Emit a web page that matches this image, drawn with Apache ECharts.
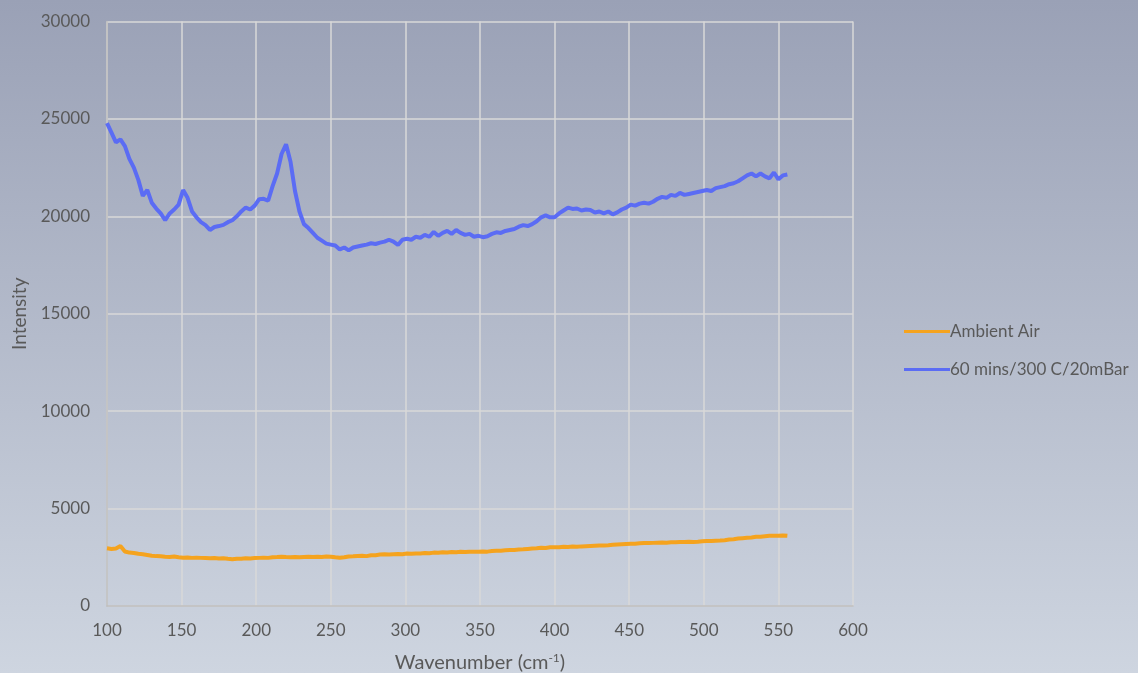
<!DOCTYPE html>
<html>
<head>
<meta charset="utf-8">
<title>Raman spectra</title>
<script src="https://cdn.jsdelivr.net/npm/echarts@6/dist/echarts.min.js"></script>
<style>
  html, body { margin: 0; padding: 0; }
  #chart { width: 1138px; height: 673px; }
</style>
</head>
<body>
<div id="chart"></div>
<script>
// Sampled wavenumbers (cm^-1)
const wavenumbers = [
  100,103,106,109,112,115,118,121,124,127,130,133,136,139,142,145,148,151,154,157,
  160,163,166,169,172,175,178,181,184,187,190,193,196,199,202,205,208,211,214,217,
  220,223,226,229,232,235,238,241,244,247,250,253,256,259,262,265,268,271,274,277,
  280,283,286,289,292,295,298,301,304,307,310,313,316,319,322,325,328,331,334,337,
  340,343,346,349,352,355,358,361,364,367,370,373,376,379,382,385,388,391,394,397,
  400,403,406,409,412,415,418,421,424,427,430,433,436,439,442,445,448,451,454,457,
  460,463,466,469,472,475,478,481,484,487,490,493,496,499,502,505,508,511,514,517,
  520,523,526,529,532,535,538,541,544,547,550,553,556
];

// Intensity, sample in ambient air
const ambientAir = [
  2960,2930,2950,3080,2800,2740,2720,2680,2660,2620,2580,2560,2550,2530,2520,2540,2500,2480,2490,2470,
  2480,2470,2460,2450,2460,2440,2450,2420,2400,2430,2420,2450,2440,2460,2470,2480,2470,2500,2510,2530,
  2510,2500,2520,2500,2520,2530,2510,2530,2520,2540,2530,2500,2480,2500,2540,2550,2570,2580,2560,2600,
  2610,2640,2650,2640,2660,2670,2660,2690,2680,2700,2700,2720,2710,2740,2730,2760,2750,2770,2760,2780,
  2770,2790,2780,2790,2800,2790,2820,2830,2840,2860,2870,2880,2900,2910,2930,2950,2960,2990,2980,3010,
  3010,3020,3040,3030,3050,3040,3060,3070,3080,3090,3100,3110,3120,3140,3160,3170,3180,3190,3200,3220,
  3230,3230,3240,3250,3260,3250,3270,3270,3280,3290,3300,3290,3300,3320,3330,3340,3350,3360,3380,3410,
  3430,3460,3480,3500,3520,3550,3560,3580,3600,3610,3600,3620,3600
];

// Intensity, after 60 mins at 300 C / 20 mBar
const annealed = [
  24780,24300,23800,23950,23600,22950,22500,21870,21050,21350,20700,20400,20150,19800,20150,20350,20600,21350,20950,20250,
  19950,19700,19550,19300,19450,19500,19560,19700,19800,20000,20250,20450,20350,20550,20880,20900,20800,21550,22200,23200,
  23700,22800,21300,20250,19600,19400,19150,18900,18750,18600,18550,18500,18300,18400,18250,18400,18450,18500,18550,18620,
  18580,18650,18700,18800,18700,18530,18800,18850,18800,18950,18900,19050,18950,19200,19000,19150,19250,19100,19300,19150,
  19050,19100,18950,19000,18930,18980,19100,19180,19150,19250,19300,19350,19470,19550,19500,19600,19750,19950,20050,19950,
  19950,20150,20300,20450,20380,20400,20300,20350,20320,20200,20250,20150,20250,20100,20200,20350,20450,20600,20550,20650,
  20700,20650,20750,20900,21000,20950,21100,21050,21200,21100,21150,21200,21250,21300,21350,21300,21450,21500,21550,21650,
  21700,21800,21950,22100,22200,22050,22200,22050,21950,22250,21900,22100,22150
];

const seriesNames = ['Ambient Air', '60 mins/300 C/20mBar'];
const yTicks = [0, 5000, 10000, 15000, 20000, 25000, 30000];
const xTicks = [100, 150, 200, 250, 300, 350, 400, 450, 500, 550, 600];

const pair = (ys) => wavenumbers.map((x, i) => [x, ys[i]]);
const textColor = '#595959';
const font = 'Lato, "Open Sans", sans-serif';

const chart = echarts.init(document.getElementById('chart'), null, { renderer: 'canvas' });
chart.setOption({
  backgroundColor: new echarts.graphic.LinearGradient(0, 0, 0, 1, [
    { offset: 0, color: '#9aa1b6' },
    { offset: 1, color: '#ced5e0' }
  ]),
  animation: false,
  textStyle: { fontFamily: font, color: textColor },
  grid: { left: 107, right: 285, top: 21.5, bottom: 67, containLabel: false, outerBoundsMode: 'none' },
  legend: {
    orient: 'vertical',
    left: 899,
    top: 318,
    itemGap: 21,
    itemWidth: 46,
    itemHeight: 3,
    icon: 'rect',
    textStyle: { fontFamily: font, fontSize: 17, color: textColor, padding: [0, 0, 0, -5] },
    data: seriesNames
  },
  xAxis: {
    type: 'value',
    min: xTicks[0],
    max: xTicks[xTicks.length - 1],
    interval: 50,
    name: '{t|Wavenumber (cm}{s|-1}{t|)}',
    nameLocation: 'middle',
    nameGap: 46,
    nameTextStyle: {
      rich: {
        t: { fontFamily: font, fontSize: 20, color: textColor },
        s: { fontFamily: font, fontSize: 12, color: textColor, verticalAlign: 'top', padding: [0, 0, 9, 0] }
      }
    },
    axisLine: { show: true, lineStyle: { color: '#bfbfbf', width: 1.5 } },
    axisTick: { show: false },
    axisLabel: { fontFamily: font, fontSize: 17, color: textColor, margin: 16 },
    splitLine: { show: true, lineStyle: { color: '#d9d9d9', width: 1.5 } }
  },
  yAxis: {
    type: 'value',
    min: yTicks[0],
    max: yTicks[yTicks.length - 1],
    interval: 5000,
    name: 'Intensity',
    nameLocation: 'middle',
    nameGap: 75,
    nameTextStyle: { fontFamily: font, fontSize: 19, color: textColor },
    axisLine: { show: true, lineStyle: { color: '#bfbfbf', width: 1.5 } },
    axisTick: { show: false },
    axisLabel: { fontFamily: font, fontSize: 17, color: textColor, margin: 17, formatter: (v) => String(v) },
    splitLine: { show: true, lineStyle: { color: '#d9d9d9', width: 1.5 } }
  },
  series: [
    {
      name: seriesNames[0],
      type: 'line',
      data: pair(ambientAir),
      showSymbol: false,
      symbol: 'none',
      color: '#f5a31e',
      lineStyle: { width: 4, color: '#f5a31e' }
    },
    {
      name: seriesNames[1],
      type: 'line',
      data: pair(annealed),
      showSymbol: false,
      symbol: 'none',
      color: '#5b6cf4',
      lineStyle: { width: 4, color: '#5b6cf4' }
    }
  ]
});
</script>
</body>
</html>
